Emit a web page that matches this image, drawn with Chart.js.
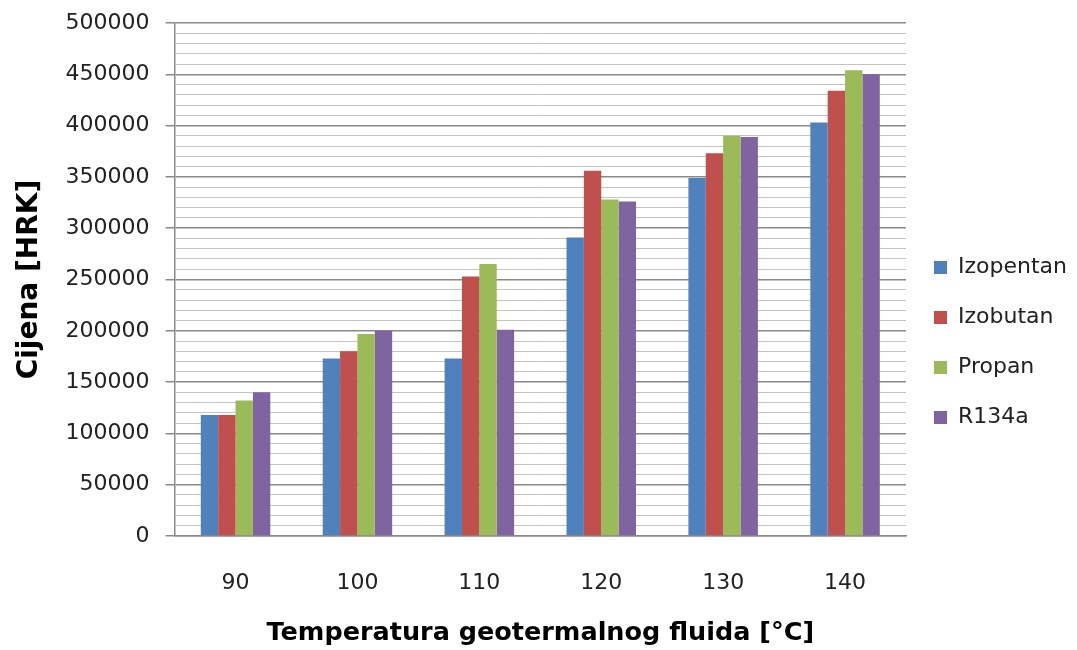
<!DOCTYPE html>
<html lang="hr">
<head>
<meta charset="UTF-8">
<title>Cijena</title>
<script src="https://cdn.jsdelivr.net/npm/chart.js"></script>
<style>
  html, body { margin: 0; padding: 0; background: #fff; }
  #wrap { width: 1077px; height: 650px; }
</style>
</head>
<body>
<div id="wrap"><canvas id="myChart"></canvas></div>
<script>
  // data
  const temperature = ['90', '100', '110', '120', '130', '140'];
  const izopentan = [118000, 173000, 173000, 291000, 349000, 403000];
  const izobutan  = [118000, 180000, 253000, 356000, 373000, 434000];
  const propan    = [132000, 197000, 265000, 328000, 390000, 454000];
  const r134a     = [140000, 200000, 201000, 326000, 389000, 450000];

  const font = 'DejaVu Sans';
  const isMajor = v => v % 50000 === 0;

  const ctx = document.getElementById('myChart');

  new Chart(ctx, {
    type: 'bar',
    data: {
      labels: temperature,
      datasets: [
        { label: 'Izopentan', data: izopentan, backgroundColor: '#4F81BD' },
        { label: 'Izobutan', data: izobutan, backgroundColor: '#C0504D' },
        { label: 'Propan', data: propan, backgroundColor: '#9BBB59' },
        { label: 'R134a', data: r134a, backgroundColor: '#8064A2' }
      ]
    },
    options: {
      responsive: true,
      maintainAspectRatio: false,
      animation: false,
      layout: { padding: { top: 23, right: 0, bottom: 0, left: 0 } },
      datasets: {
        bar: { categoryPercentage: 0.57, barPercentage: 1 }
      },
      scales: {
        x: {
          // padding is counted twice in the fit, so pin the height
          afterFit: s => { s.height = 114; },
          grid: { display: false },
          border: { color: '#8a8a8a', width: 1.5 },
          ticks: { color: '#222', padding: 26, font: { family: font, size: 22 } },
          title: {
            display: true,
            text: 'Temperatura geotermalnog fluida [°C]',
            color: '#000',
            font: { family: font, size: 25.5, weight: 'bold' },
            padding: { top: 2, bottom: 1 }
          }
        },
        y: {
          min: 0,
          max: 500000,
          afterFit: s => { s.paddingTop = 12; },
          border: { color: '#8a8a8a', width: 1.5 },
          grid: {
            color: c => isMajor(c.tick.value) ? '#8a8a8a' : '#c4c4c4',
            lineWidth: c => isMajor(c.tick.value) ? 1.5 : 1,
            tickColor: c => isMajor(c.tick.value) ? '#8a8a8a' : 'rgba(0,0,0,0)',
            tickLength: 9
          },
          ticks: {
            stepSize: 10000,
            autoSkip: false,
            padding: 16,
            color: '#222',
            font: { family: font, size: 22 },
            callback: v => isMajor(v) ? String(v) : ''
          },
          title: {
            display: true,
            text: 'Cijena [HRK]',
            color: '#000',
            font: { family: font, size: 28, weight: 'bold' },
            padding: { top: 13, bottom: 3 }
          }
        }
      },
      plugins: {
        legend: {
          position: 'right',
          title: { display: true, text: ' ', font: { size: 10 }, padding: 0 },
          labels: {
            boxWidth: 13,
            boxHeight: 13,
            padding: 28,
            color: '#222',
            font: { family: font, size: 22 }
          }
        },
        tooltip: { enabled: false }
      }
    }
  });
</script>
</body>
</html>
